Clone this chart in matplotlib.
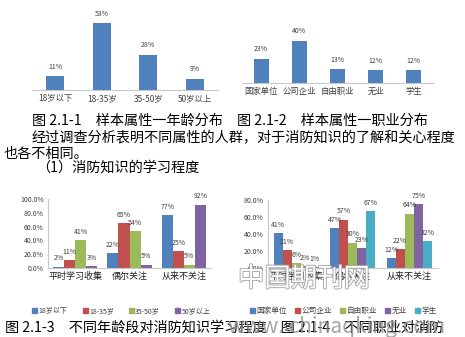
import numpy as np
import matplotlib
matplotlib.use("Agg")
import matplotlib.pyplot as plt
from matplotlib.patches import Patch
import matplotlib.patheffects as pe

plt.rcParams['font.family'] = ['Noto Sans CJK SC', 'DejaVu Sans']

# 图 2.1-1 年龄分布
age_groups = ['18岁以下', '18-35岁', '35-50岁', '50岁以上']
age_share = [11, 53, 28, 9]

# 图 2.1-2 职业分布
jobs = ['国家单位', '公司企业', '自由职业', '无业', '学生']
job_share = [23, 40, 13, 12, 12]

# 图 2.1-3 / 2.1-4 学习程度
study_levels = ['平时学习收集', '偶尔关注', '从来不关注']
age_study = {
    '18岁以下': [2, 22, 77],
    '18-35岁': [11, 65, 25],
    '35-50岁': [41, 54, 5],
    '50岁以上': [3, 5, 92],
}
job_study = {
    '国家单位': [41, 47, 12],
    '公司企业': [21, 57, 22],
    '自由职业': [6, 30, 64],
    '无业': [2, 23, 75],
    '学生': [1, 67, 32],
}

W, H = 465, 337
BLUE = '#4F81BD'
PALETTE = ['#4F81BD', '#C0504D', '#9BBB59', '#8064A2', '#4BACC6']
AXIS_GRAY = '#c8c8c8'
TXT = '#404040'

fig = plt.figure(figsize=(W / 100, H / 100), dpi=100)
fig.patch.set_facecolor('white')


def place(x0, x1, y_top, y_bot):
    return fig.add_axes([x0 / W, 1 - y_bot / H, (x1 - x0) / W, (y_bot - y_top) / H])


def simple_bars(ax, cats, vals, ymax):
    x = np.arange(len(cats))
    ax.bar(x, vals, width=0.39, color=BLUE)
    for xi, v in zip(x, vals):
        ax.annotate(f'{v}%', (xi, v), xytext=(0, 4), textcoords='offset points',
                    ha='center', va='bottom', fontsize=5, color=TXT)
    ax.set_xlim(-0.5, len(cats) - 0.5)
    ax.set_ylim(0, ymax)
    ax.set_xticks(x)
    ax.set_xticklabels(cats, fontsize=6, color=TXT)
    ax.set_yticks([])
    for s in ['top', 'left', 'right']:
        ax.spines[s].set_visible(False)
    ax.spines['bottom'].set_color(AXIS_GRAY)
    ax.tick_params(axis='x', length=0, pad=3)


def grouped_bars(ax, data, ymax, step, bar_w):
    x = np.arange(len(study_levels))
    n = len(data)
    for i, (name, vals) in enumerate(data.items()):
        off = (i - (n - 1) / 2) * bar_w
        ax.bar(x + off, vals, width=bar_w, color=PALETTE[i], label=name)
        for xi, v in zip(x + off, vals):
            ax.annotate(f'{v}%', (xi, v), xytext=(0, 3), textcoords='offset points',
                        ha='center', va='bottom', fontsize=5, color=TXT)
    ax.set_xlim(-0.5, len(study_levels) - 0.5)
    ax.set_ylim(0, ymax)
    ax.set_xticks(x)
    ax.set_xticklabels(study_levels, fontsize=6.5, color='#202020')
    yt = np.arange(0, ymax + 0.1, step)
    ax.set_yticks(yt)
    ax.set_yticklabels([f'{v:.1f}%' for v in yt], fontsize=5, color=TXT)
    for s in ['top', 'right']:
        ax.spines[s].set_visible(False)
    ax.spines['bottom'].set_color(AXIS_GRAY)
    ax.spines['left'].set_color(AXIS_GRAY)
    ax.tick_params(axis='both', length=0, pad=3)


ax1 = place(32, 218, 14.5, 90)
simple_bars(ax1, age_groups, age_share, 60)

ax2 = place(242, 433, 30.5, 83)
simple_bars(ax2, jobs, job_share, 50)

ax3 = place(48, 211, 199, 268)
grouped_bars(ax3, age_study, 100, 20, 0.203)

ax4 = place(268, 437.5, 200, 268)
grouped_bars(ax4, job_study, 80, 20, 0.16)

# legends
h3 = [Patch(color=PALETTE[i]) for i in range(len(age_study))]
fig.legend(h3, list(age_study), loc='center left', bbox_to_anchor=(26 / W, 1 - 311 / H),
           ncol=4, frameon=False, fontsize=5, handlelength=0.7, handleheight=0.7,
           handletextpad=0.2, columnspacing=2.2, labelcolor=TXT)
h4 = [Patch(color=PALETTE[i]) for i in range(len(job_study))]
fig.legend(h4, list(job_study), loc='center left', bbox_to_anchor=(243 / W, 1 - 311 / H),
           ncol=5, frameon=False, fontsize=5.5, handlelength=0.7, handleheight=0.7,
           handletextpad=0.2, columnspacing=1.0, labelcolor=TXT)

# body text
body = dict(fontsize=10.2, color='black', va='center', ha='left')
fig.text(32 / W, 1 - 121 / H, '图 2.1-1　样本属性一年龄分布　图 2.1-2　样本属性一职业分布', **body)
fig.text(32 / W, 1 - 138 / H, '经过调查分析表明不同属性的人群，对于消防知识的了解和关心程度', **body)
fig.text(4 / W, 1 - 154 / H, '也各不相同。', **body)
fig.text(36 / W, 1 - 168 / H, '（1）消防知识的学习程度', **body)
fig.text(5 / W, 1 - 328 / H,
         '图 2.1-3　不同年龄段对消防知识学习程度　图 2.1-4　不同职业对消防', **body)

# watermarks
fig.text(238 / W, 1 - 279 / H, '中国期刊网', fontsize=19, color='white', va='center', ha='left',
         path_effects=[pe.withStroke(linewidth=1.2, foreground='#a0a0a0')])
fig.text(228 / W, 1 - 327 / H, 'www. chinaqking.com', fontsize=15, color='#909090',
         alpha=0.8, va='center', ha='left')

fig.savefig('out.png', dpi=100)
